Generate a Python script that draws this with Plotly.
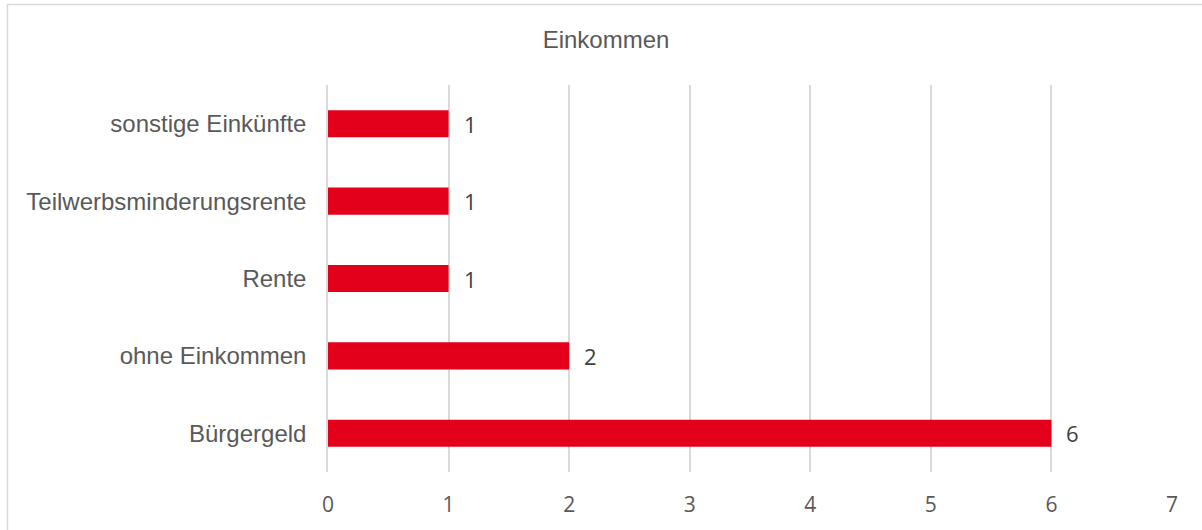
import plotly.graph_objects as go

categories = ["Bürgergeld", "ohne Einkommen", "Rente", "Teilwerbsminderungsrente", "sonstige Einkünfte"]
values = [6, 2, 1, 1, 1]
x_ticks = [0, 1, 2, 3, 4, 5, 6, 7]
title_text = "Einkommen"

W, H = 1202, 530
L, R, T, B = 328, 30, 85, 58
pw, ph = W - L - R, H - T - B

fig = go.Figure()
fig.add_trace(go.Bar(
    x=values, y=categories, orientation="h",
    marker=dict(color="#E2001A", line=dict(width=0)),
    width=0.35, hoverinfo="x+y",
))

for v, c in zip(values, categories):
    fig.add_annotation(x=v, y=c, text=str(v), showarrow=False,
                       xanchor="left", yanchor="middle", xshift=13,
                       font=dict(family="Open Sans", size=22, color="#404040"))

def px_x(p):
    return (p - L) / pw

def px_y(p):
    return 1 - (p - T) / ph

fig.add_shape(type="rect", xref="paper", yref="paper",
              x0=px_x(7.5), x1=px_x(1215), y0=px_y(545), y1=px_y(4.5),
              line=dict(color="#d9d9d9", width=1.5), fillcolor="rgba(0,0,0,0)")

fig.update_layout(
    width=W, height=H,
    margin=dict(l=L, r=R, t=T, b=B, pad=0),
    paper_bgcolor="white", plot_bgcolor="white",
    showlegend=False,
    title=dict(text=title_text, x=606 / W, xanchor="center", y=1 - 40 / H, yanchor="middle",
               font=dict(family="Liberation Sans", size=24, color="#595959")),
    xaxis=dict(range=[0, 7], tickvals=x_ticks, showgrid=True, gridcolor="#d9d9d9", gridwidth=1.5,
               zeroline=False, showline=False, ticks="",
               tickfont=dict(family="Open Sans", size=21, color="#595959"),
               ticklabelstandoff=18),
    yaxis=dict(type="category", categoryorder="array", categoryarray=categories,
               range=[-0.5, 4.5], showgrid=False, zeroline=False,
               showline=True, linecolor="#d9d9d9", linewidth=1.5, ticks="",
               tickfont=dict(family="Liberation Sans", size=24, color="#595959"),
               ticklabelstandoff=15),
)

fig.write_html("out.html", config={"displayModeBar": False},
               post_script="document.body.style.margin='0';document.body.style.overflow='hidden';")
